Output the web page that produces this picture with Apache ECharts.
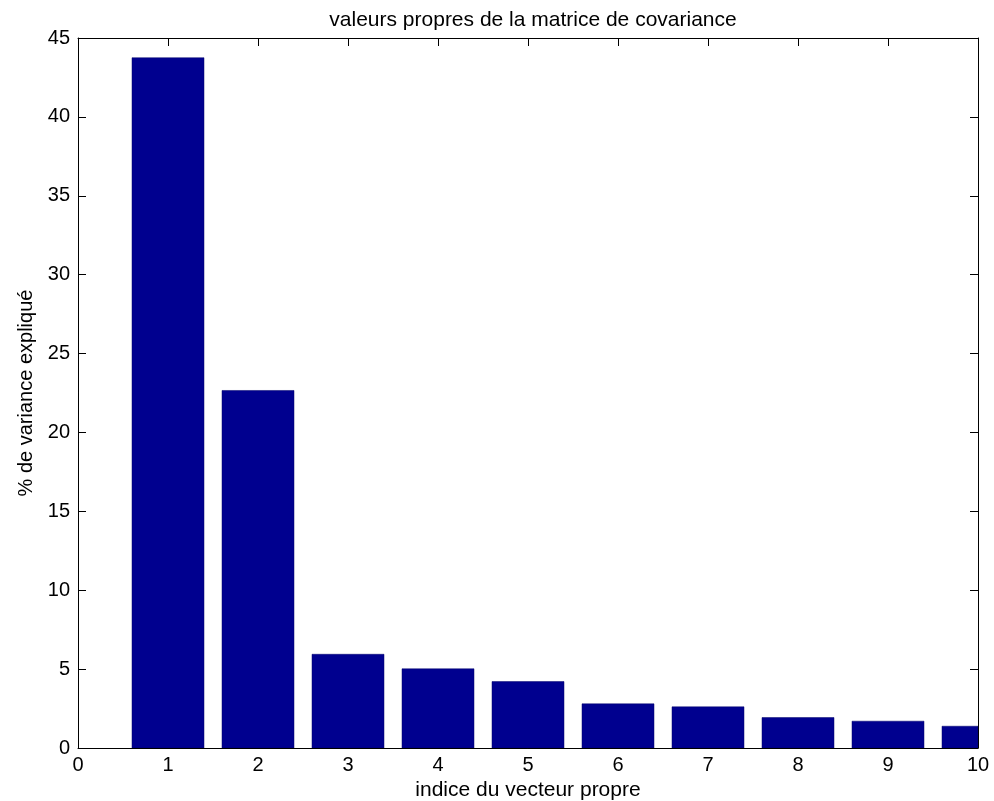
<!DOCTYPE html>
<html>
<head>
<meta charset="utf-8">
<script src="https://cdn.jsdelivr.net/npm/echarts@6/dist/echarts.min.js"></script>
<style>html,body{margin:0;padding:0;background:#fff}#c{width:994px;height:801px}</style>
</head>
<body>
<div id="c"></div>
<script>
const indices = [1, 2, 3, 4, 5, 6, 7, 8, 9, 10];
const variancePct = [43.75, 22.66, 5.94, 5.02, 4.21, 2.80, 2.61, 1.93, 1.70, 1.38];
const xTicks = [0, 1, 2, 3, 4, 5, 6, 7, 8, 9, 10];
const yTicks = [0, 5, 10, 15, 20, 25, 30, 35, 40, 45];
const titleText = 'valeurs propres de la matrice de covariance';
const xName = 'indice du vecteur propre';
const yName = '% de variance expliqué';

const FONT = '"Liberation Sans", Arial, sans-serif';
const chart = echarts.init(document.getElementById('c'), null, {renderer: 'canvas'});
const data = indices.map((x, i) => [x, variancePct[i]]);
const lineStyle = {color: '#000', width: 1};
const baseX = {
  type: 'value', min: xTicks[0], max: xTicks[xTicks.length - 1], interval: 1,
  splitLine: {show: false},
  axisLine: {show: true, onZero: false, lineStyle},
  axisTick: {show: true, inside: true, length: 8, lineStyle}
};
const baseY = {
  type: 'value', min: yTicks[0], max: yTicks[yTicks.length - 1], interval: 5,
  splitLine: {show: false},
  axisLine: {show: true, onZero: false, lineStyle},
  axisTick: {show: true, inside: true, length: 8, lineStyle}
};
chart.setOption({
  backgroundColor: '#fff',
  animation: false,
  title: {
    text: titleText, left: 528, top: 5, textAlign: 'center',
    textStyle: {fontFamily: FONT, fontSize: 21, fontWeight: 'normal', color: '#000'}
  },
  grid: {left: 78, top: 38, width: 900, height: 710, containLabel: false, outerBoundsMode: 'none'},
  xAxis: [
    Object.assign({}, baseX, {
      position: 'bottom',
      name: xName, nameLocation: 'middle', nameGap: 28,
      nameTextStyle: {fontFamily: FONT, fontSize: 21, color: '#000'},
      axisLabel: {show: true, margin: 7, fontFamily: FONT, fontSize: 20, color: '#000'}
    }),
    Object.assign({}, baseX, {position: 'top', axisLabel: {show: false}})
  ],
  yAxis: [
    Object.assign({}, baseY, {
      position: 'left',
      name: yName, nameLocation: 'middle', nameGap: 40, nameRotate: 90,
      nameTextStyle: {fontFamily: FONT, fontSize: 20, color: '#000'},
      axisLabel: {show: true, margin: 8, fontFamily: FONT, fontSize: 20, color: '#000'}
    }),
    Object.assign({}, baseY, {position: 'right', axisLabel: {show: false}})
  ],
  series: [{
    type: 'custom',
    xAxisIndex: 0, yAxisIndex: 0,
    data: data,
    encode: {x: 0, y: 1},
    clip: true,
    renderItem: function (params, api) {
      const x = api.value(0), y = api.value(1);
      const p0 = api.coord([x - 0.4, y]);
      const p1 = api.coord([x + 0.4, 0]);
      const rect = echarts.graphic.clipRectByRect(
        {x: p0[0], y: p0[1], width: p1[0] - p0[0], height: p1[1] - p0[1]},
        {x: params.coordSys.x, y: params.coordSys.y, width: params.coordSys.width, height: params.coordSys.height}
      );
      return rect && {type: 'rect', shape: rect, style: {fill: '#00008F', stroke: '#00006A', lineWidth: 0.5}};
    }
  }]
});
</script>
</body>
</html>
